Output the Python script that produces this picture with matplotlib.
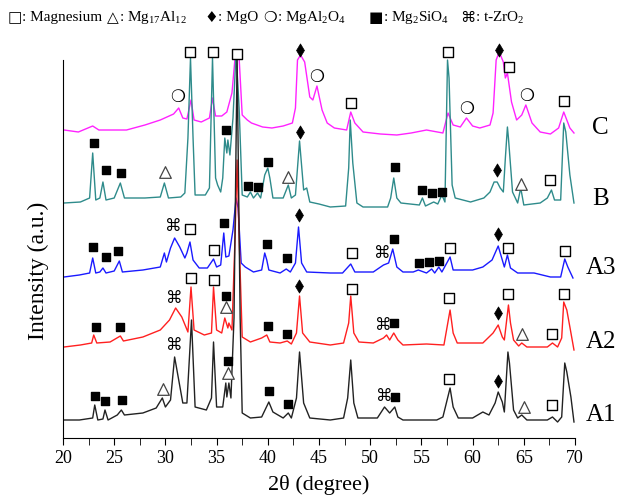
import numpy as np
import matplotlib
matplotlib.use("Agg")
import matplotlib.pyplot as plt
from matplotlib.ticker import MultipleLocator

plt.rcParams['font.family'] = ['Liberation Serif', 'DejaVu Sans']
plt.rcParams['mathtext.fontset'] = 'custom'
plt.rcParams['mathtext.rm'] = 'Liberation Serif'
plt.rcParams['mathtext.default'] = 'regular'

# ---- data (2theta in degree, intensity in a.u. incl. stacking offset) ----
c_theta = [20.1, 21.5, 22.9, 23.5, 26.2, 28.0, 29.5, 30.8, 31.3, 31.7, 32.1, 32.5, 32.8, 33.5, 34.3,
           34.6, 34.9, 35.5, 36.0, 36.5, 36.8, 37.0, 37.2, 37.5, 38.0, 38.4, 39.5, 40.4, 41.5, 42.4,
           42.7, 42.9, 43.2, 43.6, 43.9, 44.1, 44.4, 44.8, 45.3, 45.8, 46.5, 47.7, 48.1, 48.5, 49.3,
           51.0, 52.6, 54.0, 55.5, 57.1, 57.6, 58.1, 58.8, 59.4, 60.0, 60.7, 61.7, 62.0, 62.3, 62.6,
           63.0, 63.2, 63.4, 63.8, 64.3, 64.8, 65.2, 65.8, 66.6, 67.6, 68.4, 68.9, 69.5, 69.9]
c_int = [308, 306, 312, 308, 308, 313, 318, 324, 330, 320, 319, 338, 318, 316, 320,
         340, 322, 322, 326, 345, 380, 385, 380, 323, 318, 315, 311, 310, 312, 315,
         330, 378, 383, 376, 355, 341, 338, 352, 328, 315, 310, 308, 326, 315, 306,
         304, 303, 305, 308, 305, 325, 313, 311, 320, 312, 310, 313, 325, 378, 386,
         376, 360, 365, 336, 318, 323, 333, 315, 306, 304, 310, 326, 310, 305]

b_theta = [20.1, 21.7, 22.6, 22.9, 23.2, 23.6, 23.9, 24.2, 25.0, 25.6, 26.0, 28.0, 29.5, 29.9, 30.3,
           31.5, 31.9, 32.2, 32.45, 32.7, 32.9, 33.9, 34.3, 34.6, 34.9, 35.1, 35.4, 35.6, 35.8, 36.0,
           36.1, 36.3, 36.6, 36.9, 37.2, 37.5, 38.0, 38.3, 38.6, 39.0, 39.3, 39.7, 40.0, 40.2, 40.5,
           41.5, 42.0, 42.3, 42.7, 43.1, 43.5, 43.8, 44.1, 45.0, 46.1, 47.6, 47.9, 48.05, 48.3, 48.7,
           49.3, 51.7, 52.0, 52.3, 52.6, 53.0, 54.8, 55.1, 55.4, 56.2, 56.6, 57.0, 57.3, 57.55, 57.7,
           58.0, 58.3, 59.8, 61.1, 61.7, 62.1, 62.4, 62.7, 63.0, 63.2, 63.4, 63.5, 63.9, 64.4, 64.7,
           65.0, 66.6, 67.3, 67.7, 68.0, 68.6, 68.9, 69.1, 69.5, 69.9]
b_int = [235, 236, 240, 285, 238, 240, 256, 238, 240, 255, 240, 240, 241, 255, 240,
         241, 245, 300, 380, 300, 243, 243, 250, 380, 260, 253, 246, 260, 300, 285,
         298, 283, 320, 385, 330, 243, 241, 246, 240, 245, 240, 263, 270, 260, 240,
         240, 253, 240, 243, 297, 248, 250, 236, 234, 231, 232, 270, 318, 275, 235,
         231, 231, 240, 260, 240, 235, 233, 240, 232, 236, 234, 243, 236, 378, 360,
         253, 240, 236, 240, 246, 256, 256, 250, 246, 280, 311, 300, 246, 235, 250,
         233, 235, 240, 248, 238, 238, 315, 306, 263, 235]

a3_theta = [20.1, 21.6, 22.6, 22.9, 23.2, 23.6, 23.9, 24.2, 25.0, 25.5, 25.8, 27.8, 29.5, 29.9, 30.1,
            30.5, 30.9, 31.4, 31.9, 32.1, 32.4, 32.7, 33.3, 34.1, 34.7, 35.0, 35.4, 35.7, 35.9, 36.2,
            36.6, 36.9, 37.1, 37.4, 37.8, 38.6, 39.4, 39.7, 39.9, 40.1, 41.2, 41.8, 42.2, 42.7, 43.0,
            43.3, 43.8, 46.1, 47.3, 48.1, 48.5, 50.3, 51.3, 51.8, 52.2, 52.6, 53.2, 54.2, 54.7, 55.5,
            56.0, 56.3, 56.7, 57.0, 57.8, 58.1, 58.8, 60.0, 61.0, 61.9, 62.5, 62.9, 63.1, 63.4, 63.7,
            64.4, 66.0, 67.6, 68.6, 69.0, 69.3, 69.8]
a3_int = [161, 163, 165, 180, 165, 166, 170, 165, 167, 177, 166, 168, 171, 185, 176,
          190, 200, 191, 180, 185, 196, 178, 170, 170, 179, 171, 173, 205, 181, 182,
          208, 240, 230, 175, 171, 166, 168, 185, 178, 168, 165, 169, 166, 175, 211,
          175, 166, 165, 165, 174, 166, 166, 173, 175, 189, 171, 166, 166, 168, 165,
          169, 165, 171, 166, 181, 168, 168, 168, 171, 178, 192, 178, 171, 183, 170,
          165, 165, 161, 161, 179, 171, 160]

a2_theta = [20.1, 21.7, 22.8, 23.0, 23.3, 24.6, 25.6, 25.9, 27.8, 29.5, 30.4, 31.0, 31.6, 32.2, 32.5,
            32.8, 33.8, 34.5, 34.7, 35.0, 35.5, 35.8, 36.1, 36.2, 36.5, 36.8, 37.0, 37.2, 37.5, 38.3,
            39.4, 39.9, 40.2, 41.2, 41.9, 42.3, 42.8, 43.1, 43.4, 44.1, 46.1, 47.4, 47.9, 48.1, 48.4,
            48.9, 50.3, 51.3, 51.6, 51.9, 52.3, 52.7, 53.2, 55.5, 57.2, 57.8, 58.1, 58.5, 61.0, 62.0,
            62.5, 62.9, 63.1, 63.5, 63.7, 64.0, 64.5, 64.8, 65.3, 67.3, 67.8, 68.3, 68.7, 68.9, 69.2,
            69.5, 69.9]
a2_int = [91, 93, 95, 103, 95, 96, 102, 97, 101, 108, 118, 130, 121, 106, 151,
          108, 103, 105, 151, 108, 105, 120, 110, 115, 108, 200, 278, 200, 101, 96,
          100, 103, 96, 95, 97, 94, 105, 142, 105, 96, 93, 95, 115, 142, 105,
          96, 95, 100, 103, 98, 105, 98, 93, 94, 93, 128, 105, 95, 95, 105,
          113, 101, 98, 133, 115, 98, 92, 95, 91, 91, 95, 91, 100, 136, 128,
          111, 88]

a1_theta = [20.1, 21.6, 22.9, 23.1, 23.4, 23.9, 24.1, 24.4, 25.3, 25.7, 26.0, 27.8, 29.1, 29.7, 30.0,
            30.5, 30.9, 31.3, 31.7, 32.1, 32.55, 32.9, 34.0, 34.5, 34.7, 35.0, 35.6, 35.9, 36.0, 36.2,
            36.4, 36.7, 37.0, 37.3, 37.5, 38.3, 39.4, 40.1, 40.5, 41.5, 42.0, 42.3, 42.8, 43.1, 43.5,
            44.1, 46.1, 47.4, 47.8, 48.1, 48.4, 48.8, 50.7, 51.4, 51.9, 52.4, 52.7, 53.2, 55.2, 56.5,
            57.1, 57.8, 58.1, 58.6, 60.0, 61.0, 61.6, 62.2, 62.5, 62.9, 63.1, 63.45, 63.6, 64.0, 64.4,
            64.8, 65.3, 67.3, 67.8, 68.3, 68.7, 69.0, 69.2, 69.6, 69.9]
a1_int = [18, 18, 20, 33, 18, 19, 28, 18, 23, 28, 23, 25, 30, 40, 31,
          38, 81, 58, 35, 35, 118, 31, 28, 40, 96, 31, 31, 55, 41, 55,
          40, 120, 380, 120, 25, 20, 21, 36, 26, 20, 25, 20, 40, 86, 35,
          20, 18, 20, 40, 78, 35, 20, 20, 31, 25, 31, 21, 18, 18, 18,
          21, 50, 31, 20, 20, 26, 23, 35, 46, 36, 26, 86, 75, 28, 20,
          23, 18, 18, 21, 16, 21, 75, 66, 41, 16]

samples = ['C', 'B', 'A3', 'A2', 'A1']
colors = ['#ff22ff', '#2e8b8b', '#1a1aff', '#ff2020', '#222222']
thetas = [c_theta, b_theta, a3_theta, a2_theta, a1_theta]
ints = [c_int, b_int, a3_int, a2_int, a1_int]
label_y = [310, 239, 170, 96, 23]

# phase marks: (phase, 2theta, height)
marks_c = [('sp', 31.2, 341), ('mg', 32.4, 386), ('mg', 34.6, 386), ('mg', 37.0, 384), ('mgo', 43.1, 388),
           ('sp', 44.8, 361), ('mg', 48.1, 335), ('mg', 57.6, 386), ('sp', 59.4, 329), ('mgo', 62.6, 388),
           ('mg', 63.6, 371), ('sp', 65.3, 342), ('mg', 68.9, 337)]
marks_b = [('si', 23.0, 295), ('si', 24.2, 268), ('si', 25.7, 265), ('al', 30.0, 266), ('si', 35.9, 308),
           ('si', 38.1, 252), ('si', 39.0, 251), ('si', 40.0, 276), ('al', 42.0, 261), ('mgo', 43.1, 306),
           ('si', 52.4, 271), ('si', 55.1, 248), ('si', 56.0, 245), ('si', 57.0, 246), ('mgo', 62.4, 268),
           ('al', 64.7, 254), ('mg', 67.6, 258)]
marks_a3 = [('si', 22.9, 191), ('si', 24.2, 181), ('si', 25.4, 187), ('zr', 30.8, 212), ('mg', 32.4, 209),
            ('mg', 34.7, 188), ('si', 35.7, 215), ('si', 39.9, 194), ('si', 41.9, 180), ('mgo', 43.0, 223),
            ('mg', 48.2, 185), ('zr', 51.2, 185), ('si', 52.3, 199), ('si', 54.8, 175), ('si', 55.7, 176),
            ('si', 56.7, 177), ('mg', 57.8, 190), ('mgo', 62.5, 204), ('mg', 63.5, 190), ('mg', 69.0, 187)]
marks_a2 = [('si', 23.2, 111), ('si', 25.6, 111), ('zr', 30.9, 140), ('mg', 32.5, 160), ('mg', 34.7, 158),
            ('si', 35.9, 142), ('al', 35.9, 131), ('si', 40.0, 112), ('si', 41.9, 104), ('mgo', 43.0, 152),
            ('mg', 48.2, 149), ('zr', 51.3, 113), ('si', 52.3, 115), ('mg', 57.7, 140), ('mgo', 62.5, 125),
            ('mg', 63.5, 144), ('al', 64.8, 104), ('mg', 67.8, 104), ('mg', 68.9, 144)]
marks_a1 = [('si', 23.1, 42), ('si', 24.1, 37), ('si', 25.8, 38), ('al', 29.8, 49), ('zr', 30.9, 93),
            ('si', 36.1, 77), ('al', 36.1, 65), ('si', 40.1, 47), ('si', 42.0, 34), ('zr', 51.4, 42),
            ('si', 52.4, 41), ('mg', 57.7, 59), ('mgo', 62.5, 57), ('al', 65.0, 31), ('mg', 67.8, 33)]

fig = plt.figure(figsize=(6.34, 5.0), dpi=100)
ax = fig.add_axes([63 / 634, 62 / 500, 512 / 634, 418 / 500])

for th, y, col in zip(thetas, ints, colors):
    ax.plot(th, y, color=col, lw=1.0)

# markers for phases
styles = {
    'mg': dict(marker='s', s=44, facecolors='white', edgecolors='black', linewidths=1.0),
    'si': dict(marker='s', s=40, facecolors='black', edgecolors='black', linewidths=1.0),
    'al': dict(marker='^', s=70, facecolors='white', edgecolors='#444444', linewidths=0.9),
    'mgo': dict(marker='d', s=45, facecolors='black', edgecolors='black', linewidths=0.5),
}
for marks in [marks_c, marks_b, marks_a3, marks_a2, marks_a1]:
    for ph, t, h in marks:
        if ph in styles:
            ax.scatter([t], [h], zorder=5, clip_on=False, **styles[ph])
        elif ph == 'zr':
            ax.text(t, h, '⌘', family='DejaVu Sans', fontsize=12, ha='center', va='center', zorder=5)
        else:
            ax.text(t, h, '❍', family='DejaVu Sans', fontsize=12, ha='center', va='center',
                    fontweight='bold', zorder=5)

for name, ly in zip(samples, label_y):
    ax.text(72.5, ly, name, fontsize=18, ha='center', va='center', clip_on=False)

ax.set_xlim(20, 70)
ax.set_ylim(0, 418)
ax.spines['top'].set_visible(False)
ax.spines['right'].set_visible(False)
ax.spines['left'].set_bounds(0, 378)
ax.set_yticks([])
ax.xaxis.set_major_locator(MultipleLocator(5))
ax.xaxis.set_minor_locator(MultipleLocator(2.5))
ax.tick_params(axis='x', which='both', direction='out', length=5, labelsize=13)
ax.set_xlabel('2θ (degree)', fontsize=16, labelpad=6)
ax.set_ylabel('Intensity (a.u.)', fontsize=17)
ax.yaxis.set_label_coords(-0.027, 0.40)

# legend row on top
legend_items = [(8, '□', ': Magnesium'), (107, '△', ': Mg$_{17}$Al$_{12}$'), (204, '♦', ': MgO'),
                (263, '❍', ': MgAl$_2$O$_4$'), (369, '■', ': Mg$_2$SiO$_4$'), (460, '⌘', ': t-ZrO$_2$')]
fig.canvas.draw()
for x0, sym, txt in legend_items:
    t1 = fig.text(x0 / 634, 1 - 18 / 500, sym, family='DejaVu Sans', fontsize=11, va='center')
    w = t1.get_window_extent(renderer=fig.canvas.get_renderer()).width
    fig.text((x0 + w) / 634, 1 - 18 / 500, txt, fontsize=11, va='center')

fig.savefig('out.png', dpi=100)
